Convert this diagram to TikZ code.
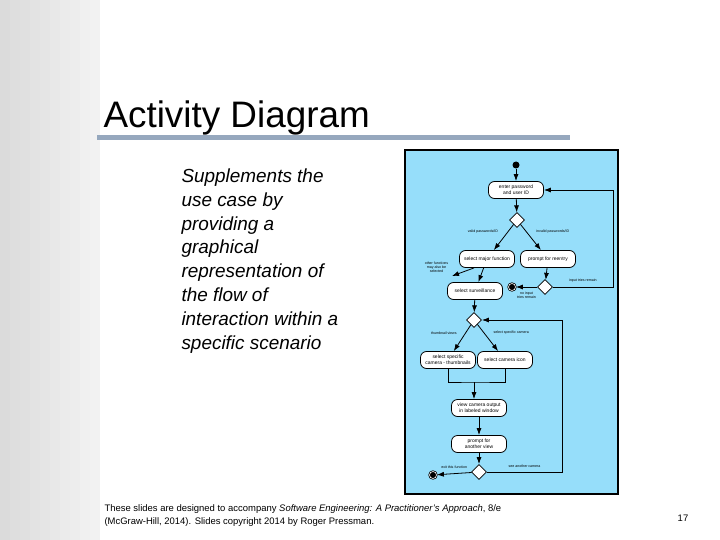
\documentclass[tikz,border=0pt]{standalone}
\usepackage{fontspec}
\setmainfont{Liberation Sans}
\usetikzlibrary{shapes.geometric,arrows.meta,positioning}
\definecolor{panelblue}{RGB}{150,222,250}
\definecolor{barblue}{RGB}{150,168,190}

\begin{document}
\begin{tikzpicture}[
    x=1bp, y=-1bp,
    act/.style={rectangle, draw, thick, fill=white, rounded corners=6bp, minimum width=55bp, minimum height=17bp, align=center, font=\fontsize{5}{6}\selectfont, inner sep=1bp},
    dec/.style={diamond, draw, thick, fill=white, minimum size=15bp, inner sep=0pt},
    init/.style={circle, fill=black, minimum size=7bp, inner sep=0pt},
    final/.style={circle, draw, thick, fill=black, minimum size=7bp, inner sep=0pt, double=white, double distance=0.6bp},
    lbl/.style={font=\fontsize{3.6}{4}\selectfont, align=center},
    arrow/.style={-{Latex[length=7bp,width=5bp]}, thick}
]
    \useasboundingbox (0,0) rectangle (720,540);
    % slide background
    \fill[white] (0,0) rectangle (720,540);
    \foreach \i in {0,...,9}
        \fill[black!\the\numexpr 14-\i\relax] (\i*10,0) rectangle (\i*10+10,540);
    \node[anchor=west, font=\fontsize{37}{42}\selectfont] (title) at (100,118) {Activity Diagram};
    \fill[barblue] (97,135) rectangle (570,140);
    \node[anchor=north west, align=left, font=\fontsize{19}{24}\selectfont\itshape] (text) at (178,165)
        {Supplements the\\use case by\\providing a\\graphical\\representation of\\the flow of\\interaction within a\\specific scenario};
    \node[anchor=north west, align=left, font=\fontsize{9.5}{13}\selectfont] (foot) at (101,501)
        {These slides are designed to accompany \textit{Software Engineering: A Practitioner's Approach}, 8/e\\(McGraw-Hill, 2014). Slides copyright 2014 by Roger Pressman.};
    \node[font=\fontsize{9.5}{10}\selectfont] (page) at (683,518) {17};

    % diagram panel
    \draw[fill=panelblue, line width=1.5bp] (405,150) rectangle (618,494);

    \node[init] (start) at (516,165) {};
    \node[act] (login) at (516,190) {enter password\\and user ID};
    \node[dec] (d1) at (517,220) {};
    \node[act] (major) at (487,259) {select major function};
    \node[act] (reentry) at (548,259) {prompt for reentry};
    \node[dec] (d2) at (545,287) {};
    \node[final] (end1) at (512,287) {};
    \node[act] (surv) at (475,291) {select surveillance};
    \coordinate (other) at (452,276);
    \node[dec] (d3) at (474,320) {};
    \node[act] (thumb) at (448,360) {select specific\\camera - thumbnails};
    \node[act] (icon) at (505,360) {select camera icon};
    \coordinate (join) at (474,382);
    \node[act] (view) at (479,408) {view camera output\\in labeled window};
    \node[act] (another) at (479,444) {prompt for\\another view};
    \node[dec] (d4) at (479,472) {};
    \node[final] (end2) at (433,475) {};

    \draw[arrow] (start) -- (login);
    \draw[arrow] (login) -- (d1);
    \draw[arrow] (d1) -- node[lbl, above left=0bp and 2bp] {valid passwords/ID} (major);
    \draw[arrow] (d1) -- node[lbl, above right=0bp and 2bp] {invalid passwords/ID} (reentry);
    \draw[arrow] (reentry) -- (d2);
    \draw[arrow] (d2) -- node[lbl, below=1bp] {no input\\tries remain} (end1);
    \draw[arrow] (d2) -- node[lbl, above=1bp] {input tries remain} (613,287) |- (login);
    \draw[arrow] (major) -- (surv);
    \draw[arrow] (major.south west) ++(15,0) -- (other) node[lbl, above left=0bp] {other functions\\may also be\\selected};
    \draw[arrow] (surv) -- (d3);
    \draw[arrow] (d3) -- node[lbl, above left=0bp and 2bp] {thumbnail views} (thumb);
    \draw[arrow] (d3) -- node[lbl, above right=0bp and 2bp] {select specific camera} (icon);
    \draw[thick] (thumb) |- (join) -| (icon);
    \draw[arrow] (join) -- (view.north -| join);
    \draw[arrow] (view) -- (another);
    \draw[arrow] (another) -- (d4);
    \draw[arrow] (d4) -- node[lbl, above=1bp] {exit this function} (end2);
    \draw[arrow] (d4) -- node[lbl, above=1bp] {see another camera} (562,472) |- (d3);
\end{tikzpicture}
\end{document}
